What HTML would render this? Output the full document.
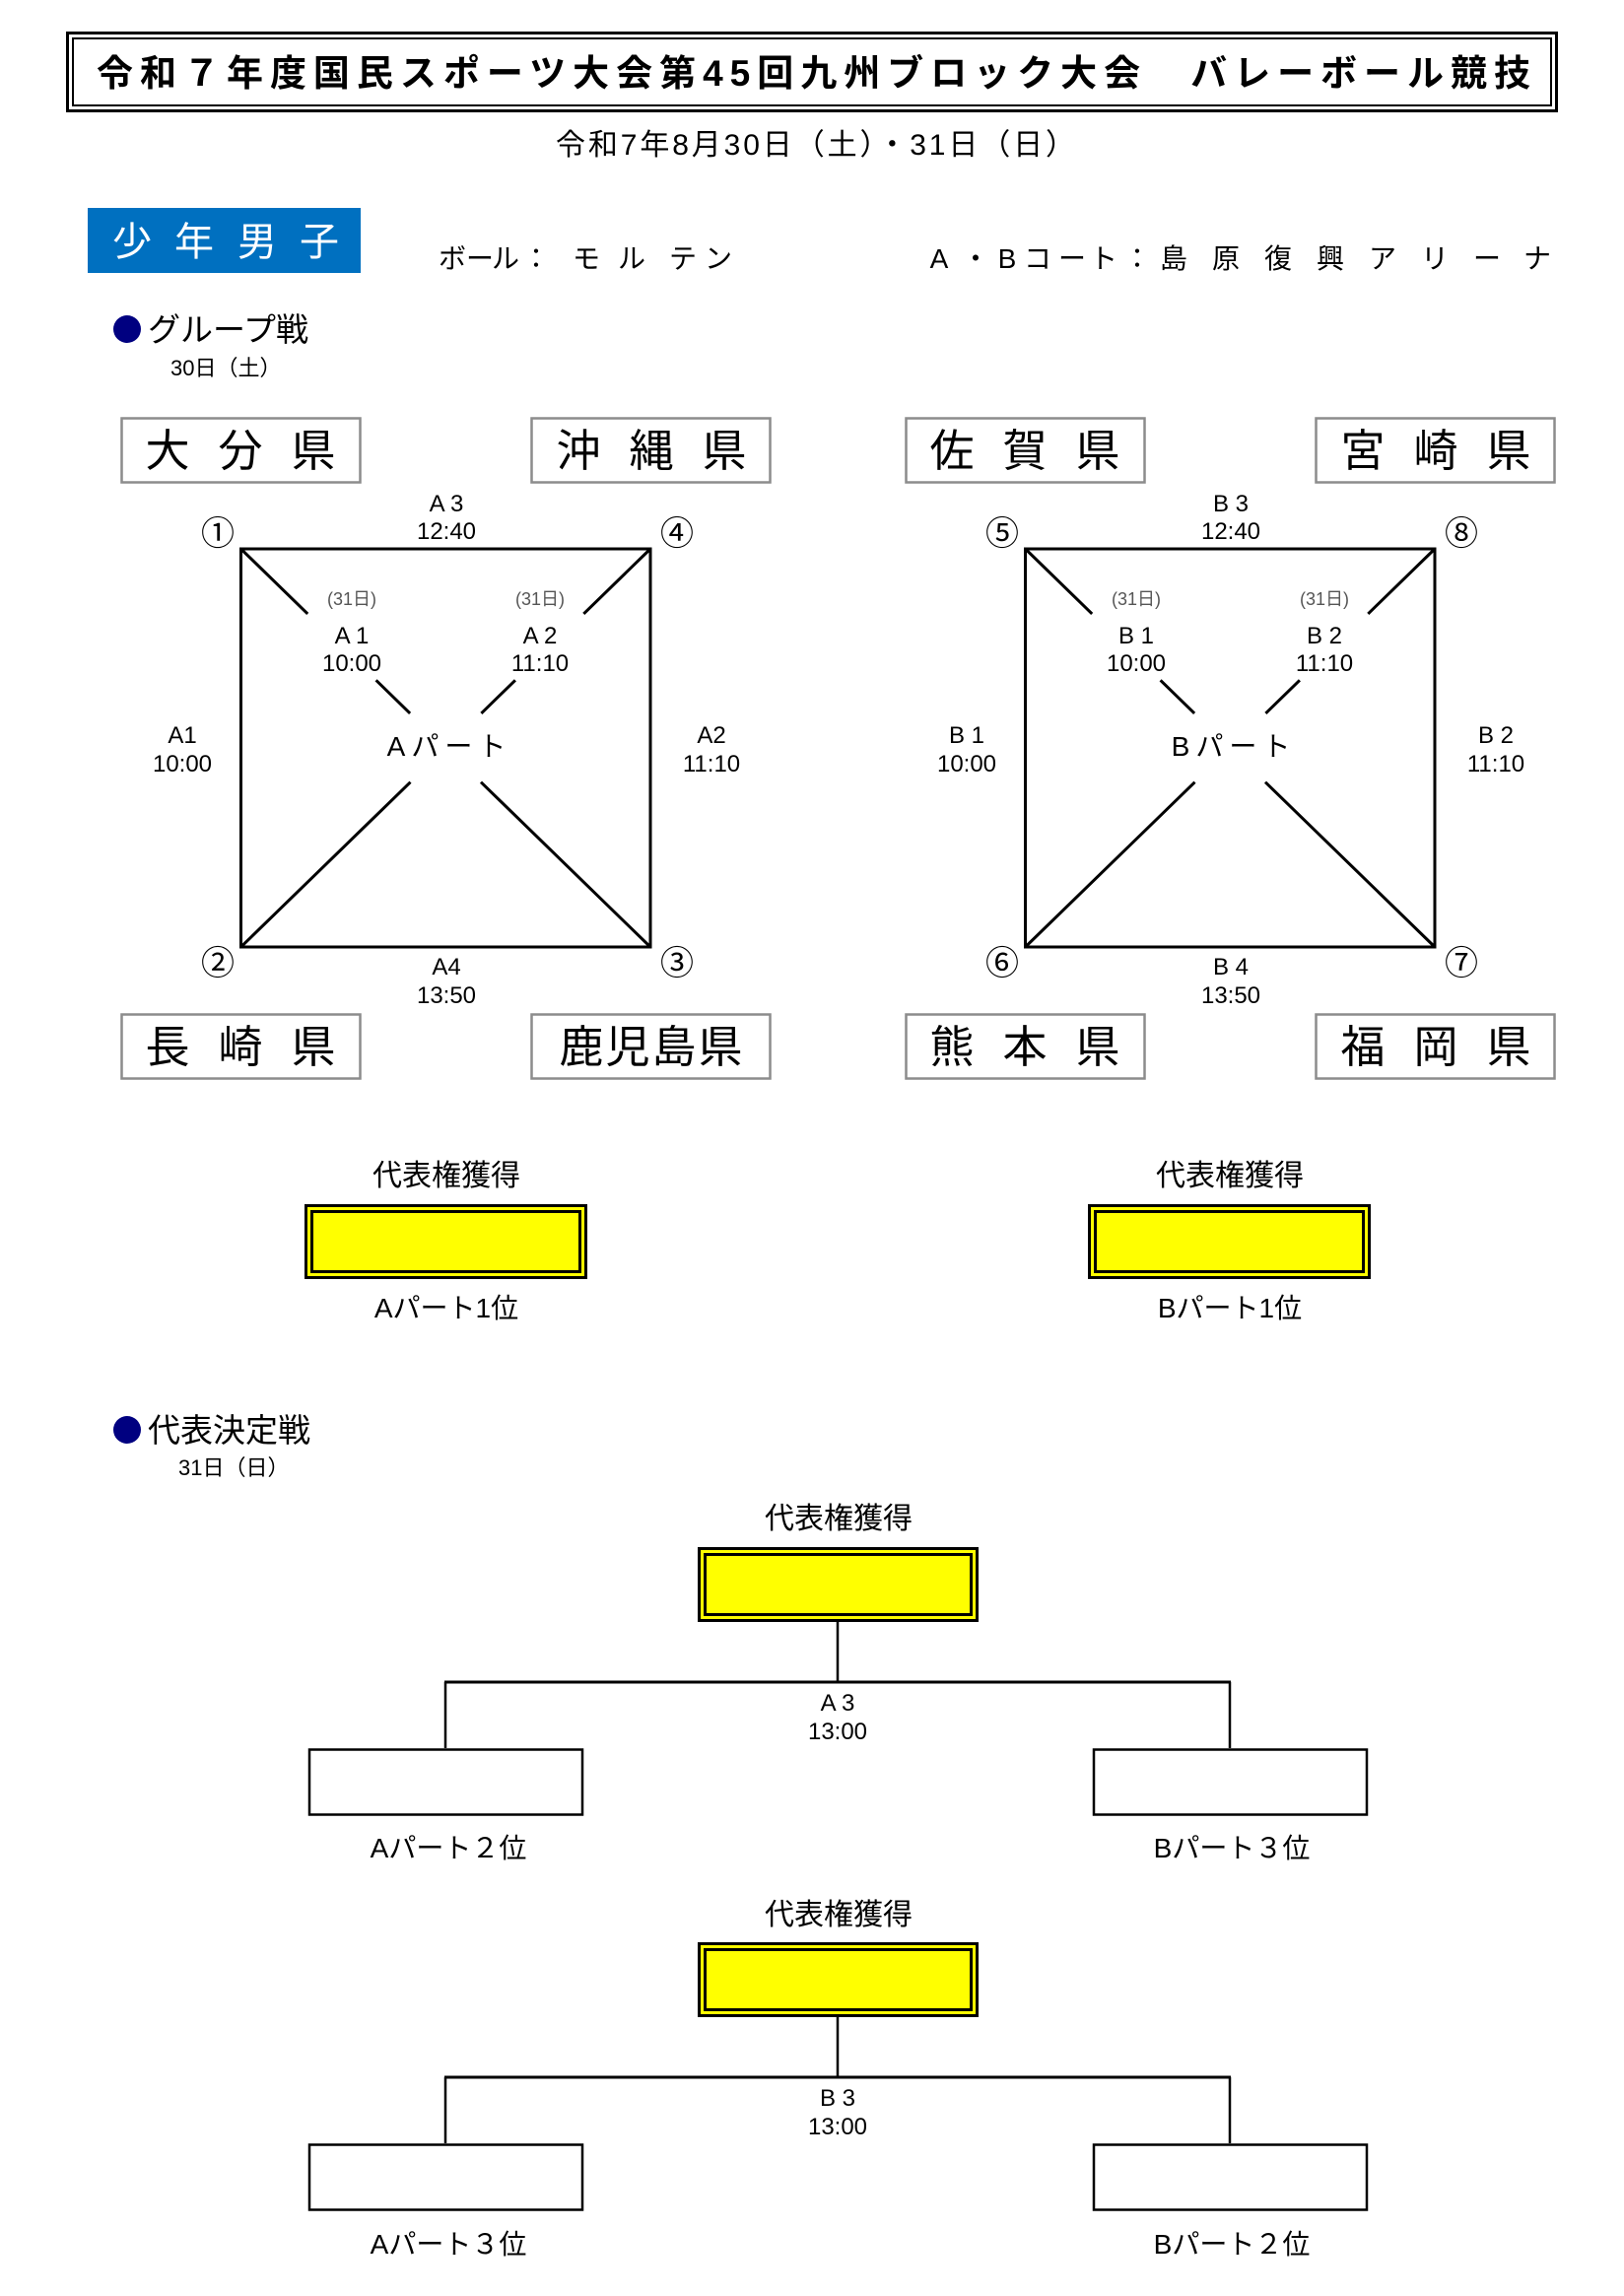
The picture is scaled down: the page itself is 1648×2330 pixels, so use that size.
<!DOCTYPE html>
<html lang="ja">
<head>
<meta charset="utf-8">
<style>
html,body{margin:0;padding:0;background:#fff;}
svg{display:block;}
text{font-family:"Liberation Sans","Noto Sans CJK JP",sans-serif;fill:#000;}
</style>
</head>
<body>
<svg width="1648" height="2330" viewBox="0 0 1648 2330" xmlns="http://www.w3.org/2000/svg">
<rect x="0" y="0" width="1648" height="2330" fill="#fff"/>

<!-- Title -->
<rect x="68.5" y="33.5" width="1511" height="79" fill="none" stroke="#000" stroke-width="3"/>
<rect x="74" y="39" width="1500" height="68" fill="none" stroke="#000" stroke-width="2"/>
<text x="98" y="87" font-size="37" font-weight="bold" textLength="1455" lengthAdjust="spacing">令和７年度国民スポーツ大会第45回九州ブロック大会　バレーボール競技</text>

<!-- Date -->
<text x="564" y="157" font-size="30" textLength="527" lengthAdjust="spacing">令和7年8月30日（土）・31日（日）</text>

<!-- Blue box -->
<rect x="89" y="211" width="277" height="66" fill="#0070C0"/>
<g font-size="40" text-anchor="middle">
<text x="134" y="259" style="fill:#fff">少</text>
<text x="197" y="259" style="fill:#fff">年</text>
<text x="261" y="259" style="fill:#fff">男</text>
<text x="324" y="259" style="fill:#fff">子</text>
</g>

<!-- Ball / court -->
<g font-size="28" text-anchor="middle">
<text x="459" y="272">ボ</text>
<text x="487" y="272">ー</text>
<text x="513" y="272">ル</text>
<text x="544" y="272">：</text>
<text x="595" y="272">モ</text>
<text x="641" y="272">ル</text>
<text x="693" y="272">テ</text>
<text x="729" y="272">ン</text>

<text x="953" y="272">A</text>
<text x="990" y="272">・</text>
<text x="1022" y="272">B</text>
<text x="1053" y="272">コ</text>
<text x="1088" y="272">ー</text>
<text x="1120" y="272">ト</text>
<text x="1154" y="272">：</text>
<text x="1191" y="272">島</text>
<text x="1244" y="272">原</text>
<text x="1297" y="272">復</text>
<text x="1350" y="272">興</text>
<text x="1403" y="272">ア</text>
<text x="1456" y="272">リ</text>
<text x="1509" y="272">ー</text>
<text x="1560" y="272">ナ</text>
</g>

<!-- Group heading -->
<circle cx="129" cy="334" r="14" fill="#000080"/>
<text x="150" y="346" font-size="33">グループ戦</text>
<text x="173" y="381" font-size="22">30日（土）</text>

<!-- prefecture boxes -->
<g fill="#fff" stroke="#8c8c8c" stroke-width="2.5">
<rect x="123.5" y="424.5" width="242" height="65"/>
<rect x="539.5" y="424.5" width="242" height="65"/>
<rect x="123.5" y="1029.5" width="242" height="65"/>
<rect x="539.5" y="1029.5" width="242" height="65"/>
<rect x="919.5" y="424.5" width="242" height="65"/>
<rect x="1335.5" y="424.5" width="242" height="65"/>
<rect x="919.5" y="1029.5" width="242" height="65"/>
<rect x="1335.5" y="1029.5" width="242" height="65"/>
</g>
<g font-size="45" text-anchor="middle">
<text x="170" y="473">大</text><text x="244" y="473">分</text><text x="318" y="473">県</text>
<text x="587" y="473">沖</text><text x="661" y="473">縄</text><text x="735" y="473">県</text>
<text x="170" y="1078">長</text><text x="244" y="1078">崎</text><text x="318" y="1078">県</text>
<text x="590" y="1078">鹿</text><text x="637" y="1078">児</text><text x="684" y="1078">島</text><text x="731" y="1078">県</text>

<text x="966" y="473">佐</text><text x="1040" y="473">賀</text><text x="1114" y="473">県</text>
<text x="1383" y="473">宮</text><text x="1457" y="473">崎</text><text x="1531" y="473">県</text>
<text x="966" y="1078">熊</text><text x="1040" y="1078">本</text><text x="1114" y="1078">県</text>
<text x="1383" y="1078">福</text><text x="1457" y="1078">岡</text><text x="1531" y="1078">県</text>
</g>

<!-- squares -->
<g fill="none" stroke="#000" stroke-width="3">
<rect x="244.5" y="557" width="415.5" height="404"/>
<line x1="244.5" y1="557" x2="312.2" y2="622.9"/>
<line x1="381.6" y1="690.3" x2="416.1" y2="723.9"/>
<line x1="488.0" y1="793.7" x2="660" y2="961"/>
<line x1="660" y1="557" x2="592.3" y2="622.9"/>
<line x1="522.9" y1="690.3" x2="488.4" y2="723.9"/>
<line x1="416.5" y1="793.7" x2="244.5" y2="961"/>

<rect x="1040.5" y="557" width="415.5" height="404"/>
<line x1="1040.5" y1="557" x2="1108.2" y2="622.9"/>
<line x1="1177.6" y1="690.3" x2="1212.1" y2="723.9"/>
<line x1="1284.0" y1="793.7" x2="1456" y2="961"/>
<line x1="1456" y1="557" x2="1388.3" y2="622.9"/>
<line x1="1318.9" y1="690.3" x2="1284.4" y2="723.9"/>
<line x1="1212.5" y1="793.7" x2="1040.5" y2="961"/>
</g>

<!-- circled numbers -->
<g font-size="34" text-anchor="middle">
<text x="221" y="553">①</text>
<text x="687" y="553">④</text>
<text x="221" y="989">②</text>
<text x="687" y="989">③</text>
<text x="1017" y="553">⑤</text>
<text x="1483" y="553">⑧</text>
<text x="1017" y="989">⑥</text>
<text x="1483" y="989">⑦</text>
</g>

<!-- match labels -->
<g font-size="24" text-anchor="middle">
<text x="453" y="519">A 3</text>
<text x="453" y="547">12:40</text>
<text x="453" y="989">A4</text>
<text x="453" y="1018">13:50</text>
<text x="185" y="754">A1</text>
<text x="185" y="783">10:00</text>
<text x="722" y="754">A2</text>
<text x="722" y="783">11:10</text>
<text x="357" y="653">A 1</text>
<text x="357" y="681">10:00</text>
<text x="548" y="653">A 2</text>
<text x="548" y="681">11:10</text>

<text x="1249" y="519">B 3</text>
<text x="1249" y="547">12:40</text>
<text x="1249" y="989">B 4</text>
<text x="1249" y="1018">13:50</text>
<text x="981" y="754">B 1</text>
<text x="981" y="783">10:00</text>
<text x="1518" y="754">B 2</text>
<text x="1518" y="783">11:10</text>
<text x="1153" y="653">B 1</text>
<text x="1153" y="681">10:00</text>
<text x="1344" y="653">B 2</text>
<text x="1344" y="681">11:10</text>
</g>
<g font-size="18" text-anchor="middle">
<text x="357" y="614" style="fill:#555">(31日)</text>
<text x="548" y="614" style="fill:#555">(31日)</text>
<text x="1153" y="614" style="fill:#555">(31日)</text>
<text x="1344" y="614" style="fill:#555">(31日)</text>
</g>
<g font-size="28" text-anchor="middle" letter-spacing="6">
<text x="456" y="767">Aパート</text>
<text x="1252" y="767">Bパート</text>
</g>

<!-- representative boxes (group) -->
<g font-size="30" text-anchor="middle">
<text x="453" y="1203">代表権獲得</text>
<text x="1248" y="1203">代表権獲得</text>
</g>
<g>
<rect x="310.5" y="1223.5" width="284" height="73" fill="#ffff00" stroke="#000" stroke-width="3"/>
<rect x="316.5" y="1229.5" width="272" height="61" fill="none" stroke="#000" stroke-width="3"/>
<rect x="1105.5" y="1223.5" width="284" height="73" fill="#ffff00" stroke="#000" stroke-width="3"/>
<rect x="1111.5" y="1229.5" width="272" height="61" fill="none" stroke="#000" stroke-width="3"/>
</g>
<g font-size="28" text-anchor="middle">
<text x="453" y="1337">Aパート1位</text>
<text x="1248" y="1337">Bパート1位</text>
</g>

<!-- Final heading -->
<circle cx="129" cy="1451" r="14" fill="#000080"/>
<text x="150" y="1463" font-size="33">代表決定戦</text>
<text x="181" y="1497" font-size="22">31日（日）</text>

<!-- Bracket 1 -->
<text x="851" y="1551" font-size="30" text-anchor="middle">代表権獲得</text>
<rect x="709.5" y="1571.5" width="282" height="73" fill="#ffff00" stroke="#000" stroke-width="3"/>
<rect x="715.5" y="1577.5" width="270" height="61" fill="none" stroke="#000" stroke-width="3"/>
<line x1="850" y1="1646" x2="850" y2="1707" stroke="#000" stroke-width="2.5"/>
<line x1="451" y1="1707" x2="1249" y2="1707" stroke="#000" stroke-width="3"/>
<line x1="452" y1="1707" x2="452" y2="1774" stroke="#000" stroke-width="2.5"/>
<line x1="1248" y1="1707" x2="1248" y2="1774" stroke="#000" stroke-width="2.5"/>
<rect x="314" y="1775.5" width="277" height="66" fill="#fff" stroke="#000" stroke-width="2.5"/>
<rect x="1110" y="1775.5" width="277" height="66" fill="#fff" stroke="#000" stroke-width="2.5"/>
<g font-size="24" text-anchor="middle">
<text x="850" y="1736">A 3</text>
<text x="850" y="1765">13:00</text>
</g>
<g font-size="28" text-anchor="middle">
<text x="455" y="1885">Aパート２位</text>
<text x="1250" y="1885">Bパート３位</text>
</g>

<!-- Bracket 2 -->
<text x="851" y="1953" font-size="30" text-anchor="middle">代表権獲得</text>
<rect x="709.5" y="1972.5" width="282" height="73" fill="#ffff00" stroke="#000" stroke-width="3"/>
<rect x="715.5" y="1978.5" width="270" height="61" fill="none" stroke="#000" stroke-width="3"/>
<line x1="850" y1="2047" x2="850" y2="2108" stroke="#000" stroke-width="2.5"/>
<line x1="451" y1="2108" x2="1249" y2="2108" stroke="#000" stroke-width="3"/>
<line x1="452" y1="2108" x2="452" y2="2175" stroke="#000" stroke-width="2.5"/>
<line x1="1248" y1="2108" x2="1248" y2="2175" stroke="#000" stroke-width="2.5"/>
<rect x="314" y="2176.5" width="277" height="66" fill="#fff" stroke="#000" stroke-width="2.5"/>
<rect x="1110" y="2176.5" width="277" height="66" fill="#fff" stroke="#000" stroke-width="2.5"/>
<g font-size="24" text-anchor="middle">
<text x="850" y="2137">B 3</text>
<text x="850" y="2166">13:00</text>
</g>
<g font-size="28" text-anchor="middle">
<text x="455" y="2287">Aパート３位</text>
<text x="1250" y="2287">Bパート２位</text>
</g>
</svg>
</body>
</html>
